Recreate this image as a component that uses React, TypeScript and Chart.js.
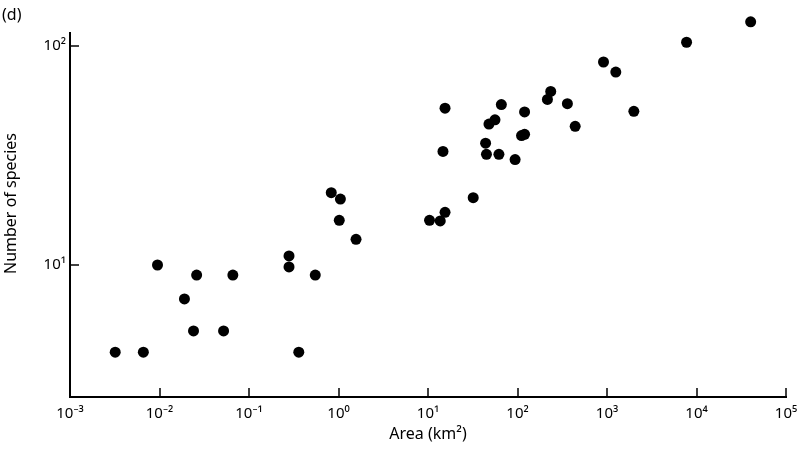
import React, { useEffect, useRef } from "react";
import { Chart, registerables } from "chart.js";

Chart.register(...registerables);

// Island area (km²) and number of species
const areaKm2 = [
  0.0032, 0.0066, 0.0095, 0.019, 0.024, 0.026, 0.052, 0.066,
  0.28, 0.28, 0.36, 0.55, 0.83, 1.05, 1.02, 1.57,
  10.4, 13.7, 15.5, 14.7, 32, 45, 44, 62, 94, 48, 56, 66, 15.5,
  111, 120, 120, 216, 235, 361, 441, 914, 1254, 1995, 7745, 40300,
];
const speciesCount = [
  4, 4, 10, 7, 5, 9, 5, 9,
  11, 9.8, 4, 9, 21.4, 20, 16, 13.1,
  16, 15.9, 17.4, 33, 20.3, 32, 36, 32, 30.3, 44, 46, 54, 52,
  39, 39.5, 50, 57, 62, 54.5, 43, 84.5, 76, 50.3, 104, 129,
];

const xTickValues = [1e-3, 1e-2, 1e-1, 1e0, 1e1, 1e2, 1e3, 1e4, 1e5];
const xTickLabels = ["10⁻³", "10⁻²", "10⁻¹", "10⁰", "10¹", "10²", "10³", "10⁴", "10⁵"];
const yTickValues = [10, 100];
const yTickLabels = ["10¹", "10²"];

// y range of the plotted area and the value where the drawn y-axis line stops
const yMin = 2.496;
const yMax = 146;
const yAxisLineTop = 115.9;

const xAxisTitle = "Area (km²)";
const yAxisTitle = "Number of species";
const panelLabel = "(d)";

const FONT = "'Noto Sans', 'DejaVu Sans', sans-serif";

const axesAndTicks = {
  id: "axesAndTicks",
  afterDraw(chart: any) {
    const { ctx, chartArea, scales } = chart;
    ctx.save();
    ctx.strokeStyle = "#000";
    // y-axis line (stops below the top of the plotting area)
    const yTopPx = scales.y.getPixelForValue(yAxisLineTop);
    const ax = Math.round(chartArea.left);
    ctx.lineWidth = 2;
    ctx.beginPath();
    ctx.moveTo(ax, yTopPx);
    ctx.lineTo(ax, chartArea.bottom + 1);
    ctx.stroke();
    // inward tick marks
    ctx.lineWidth = 1.5;
    const len = 9;
    scales.x.ticks.forEach((t: any) => {
      const px = Math.round(scales.x.getPixelForValue(t.value));
      ctx.beginPath();
      ctx.moveTo(px, chartArea.bottom);
      ctx.lineTo(px, chartArea.bottom - len);
      ctx.stroke();
    });
    scales.y.ticks.forEach((t: any) => {
      const py = Math.round(scales.y.getPixelForValue(t.value));
      ctx.beginPath();
      ctx.moveTo(ax, py);
      ctx.lineTo(ax + len, py);
      ctx.stroke();
    });
    ctx.restore();
  },
};

export default function App() {
  const canvasRef = useRef<HTMLCanvasElement | null>(null);

  useEffect(() => {
    if (!canvasRef.current) return;
    const points = areaKm2.map((x, i) => ({ x, y: speciesCount[i] }));
    const chart = new Chart(canvasRef.current, {
      type: "scatter",
      data: {
        datasets: [
          {
            data: points,
            backgroundColor: "#000",
            borderColor: "#000",
            borderWidth: 0,
            pointRadius: 5.5,
            clip: false as any,
          },
        ],
      },
      options: {
        responsive: false,
        animation: false,
        layout: { padding: { left: 0, right: 14, top: 10, bottom: 0 } },
        plugins: {
          legend: { display: false },
          tooltip: { enabled: false },
        },
        scales: {
          x: {
            type: "logarithmic",
            min: 1e-3,
            max: 1e5,
            bounds: "data",
            grid: { display: false, drawTicks: false },
            border: { display: true, color: "#000", width: 2 },
            afterBuildTicks: (scale: any) => {
              scale.ticks = xTickValues.map((v) => ({ value: v }));
            },
            afterFit: (scale: any) => {
              scale.height = 58;
              scale.paddingLeft = 0;
              scale.paddingRight = 0;
            },
            ticks: {
              autoSkip: false,
              maxRotation: 0,
              padding: 8,
              color: "#000",
              font: { family: FONT, size: 15 },
              callback: (value: any) => {
                const i = xTickValues.findIndex((v) => Math.abs(Math.log10(v) - Math.log10(Number(value))) < 1e-6);
                return i >= 0 ? xTickLabels[i] : "";
              },
            },
            title: {
              display: true,
              text: xAxisTitle,
              color: "#000",
              font: { family: FONT, size: 16 },
              padding: { top: 0, bottom: 11 },
            },
          },
          y: {
            type: "logarithmic",
            min: yMin,
            max: yMax,
            bounds: "data",
            grid: { display: false, drawTicks: false },
            border: { display: false },
            afterBuildTicks: (scale: any) => {
              scale.ticks = yTickValues.map((v) => ({ value: v }));
            },
            afterFit: (scale: any) => {
              scale.width = 70;
              scale.paddingTop = 0;
              scale.paddingBottom = 0;
            },
            ticks: {
              autoSkip: false,
              padding: 4,
              color: "#000",
              font: { family: FONT, size: 15 },
              callback: (value: any) => {
                const i = yTickValues.findIndex((v) => Math.abs(Math.log10(v) - Math.log10(Number(value))) < 1e-6);
                return i >= 0 ? yTickLabels[i] : "";
              },
            },
            title: {
              display: true,
              text: yAxisTitle,
              color: "#000",
              font: { family: FONT, size: 16 },
              padding: { top: 2, bottom: 0 },
            },
          },
        },
      },
      plugins: [axesAndTicks],
    });
    return () => chart.destroy();
  }, []);

  return (
    <div style={{ position: "absolute", left: 0, top: 0, width: 800, height: 455, background: "#fff" }}>
      <canvas ref={canvasRef} width={800} height={455} style={{ display: "block" }} />
      <div
        style={{
          position: "absolute",
          left: 2,
          top: 6,
          fontFamily: FONT,
          fontSize: 16,
          lineHeight: 1,
          color: "#000",
        }}
      >
        {panelLabel}
      </div>
    </div>
  );
}
